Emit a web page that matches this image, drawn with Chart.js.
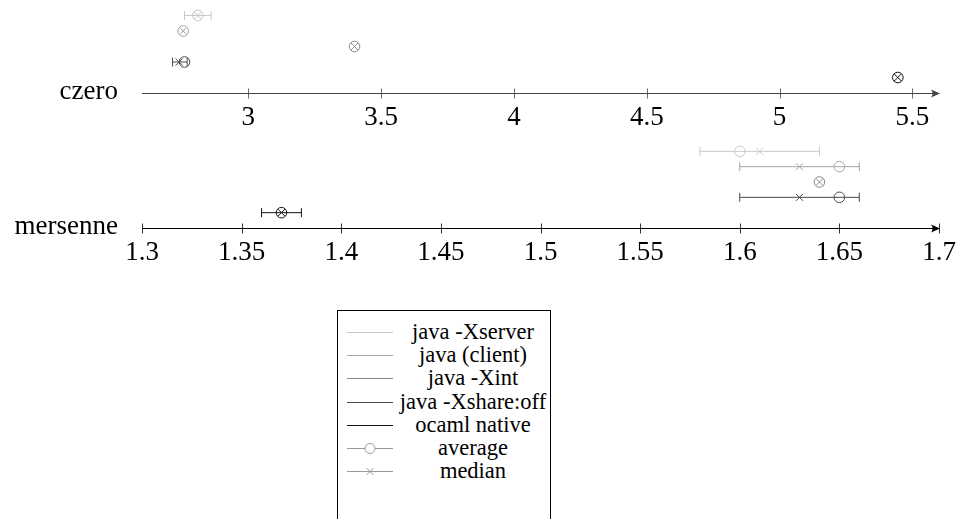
<!DOCTYPE html>
<html>
<head>
<meta charset="utf-8">
<script src="https://cdn.jsdelivr.net/npm/chart.js@4.4.1/dist/chart.umd.min.js"></script>
<style>
html,body{margin:0;padding:0;background:#fff;width:957px;height:519px;overflow:hidden;font-family:"Liberation Serif","Times New Roman","DejaVu Serif",serif;}
#c1{position:absolute;left:0;top:0;}
#c2{position:absolute;left:0;top:134px;}
#legend{position:absolute;left:337px;top:310px;width:214px;height:230px;border:1px solid #000;box-sizing:border-box;background:#fff;}
#legend .row{position:absolute;left:0;width:100%;height:24px;}
#legend svg{position:absolute;left:0;top:0;}
#legend .txt{position:absolute;left:60px;width:150px;top:0;height:24px;line-height:24px;text-align:center;font-size:22.5px;color:#000;white-space:nowrap;}
</style>
</head>
<body>
<canvas id="c1" width="957" height="135"></canvas>
<canvas id="c2" width="957" height="136"></canvas>
<div id="legend"></div>
<script>
// series (top row to bottom row)
const seriesNames = ['java -Xserver', 'java (client)', 'java -Xint', 'java -Xshare:off', 'ocaml native'];
const seriesColors = ['#c8c8c8', '#a6a6a6', '#8a8a8a', '#4a4a4a', '#111111'];

// czero
const czeroTicks = [3, 3.5, 4, 4.5, 5, 5.5];
const czeroAvg = [2.81, 2.755, 3.40, 2.76, 5.445];
const czeroMed = [2.81, 2.755, 3.40, 2.74, 5.445];
const czeroLo  = [2.76, null, null, 2.715, null];
const czeroHi  = [2.86, null, null, 2.77, null];

// mersenne
const mersTicks = [1.3, 1.35, 1.4, 1.45, 1.5, 1.55, 1.6, 1.65, 1.7];
const mersAvg = [1.60, 1.65, 1.64, 1.65, 1.37];
const mersMed = [1.61, 1.63, 1.64, 1.63, 1.37];
const mersLo  = [1.58, 1.60, null, 1.60, 1.36];
const mersHi  = [1.64, 1.66, null, 1.66, 1.38];

const FONT = '"Liberation Serif", "Times New Roman", "DejaVu Serif", serif';

function buildDatasets(avg, med, lo, hi){
	const ds = [];
	avg.forEach((v, i)=>{
		const row = 5 - i;
		const col = seriesColors[i];
		if (lo[i] !== null) {
			ds.push({
				data: [{x: lo[i], y: row}, {x: hi[i], y: row}],
				showLine: true, borderColor: col, borderWidth: 1,
				pointStyle: 'line', pointRotation: 90, pointRadius: 4.5,
				pointBorderColor: col, pointBorderWidth: 1
			});
		}
		ds.push({
			data: [{x: v, y: row}],
			pointStyle: 'circle', pointRadius: 5.3,
			pointBorderColor: col, pointBackgroundColor: 'rgba(0,0,0,0)', pointBorderWidth: 1
		});
		ds.push({
			data: [{x: med[i], y: row}],
			pointStyle: 'crossRot', pointRadius: 5,
			pointBorderColor: col, pointBorderWidth: 1
		});
	});
	return ds;
}

// axis line with arrow, tick marks across it, and the row label
const axisPlugin = {
	id: 'axisArrow',
	beforeDatasetsDraw(chart, args, opts){
		const ctx = chart.ctx;
		const xs = chart.scales.x, ys = chart.scales.y;
		const ay = Math.round(ys.getPixelForValue(0)) + 0.5;
		const tip = xs.right + 1;
		ctx.save();
		ctx.strokeStyle = opts.color;
		ctx.fillStyle = opts.color;
		ctx.lineWidth = opts.width;
		ctx.beginPath();
		ctx.moveTo(xs.left, ay);
		ctx.lineTo(tip - 4, ay);
		ctx.stroke();
		ctx.beginPath();
		ctx.moveTo(tip, ay);
		ctx.lineTo(tip - 9, ay - 4);
		ctx.quadraticCurveTo(tip - 6, ay, tip - 9, ay + 4);
		ctx.closePath();
		ctx.fill();
		ctx.lineWidth = 0.8;
		xs.ticks.forEach(t=>{
			const px = Math.round(xs.getPixelForValue(t.value)) + 0.5;
			ctx.beginPath();
			ctx.moveTo(px, ay - 5);
			ctx.lineTo(px, ay + 5);
			ctx.stroke();
		});
		ctx.fillStyle = '#000';
		ctx.font = `27px ${FONT}`;
		ctx.textAlign = 'right';
		ctx.textBaseline = 'alphabetic';
		ctx.fillText(opts.label, opts.labelX, ay + 5.5);
		ctx.restore();
	}
};

function makeChart(id, ticks, min, max, datasets, padTop, label, color){
	return new Chart(document.getElementById(id), {
		type: 'scatter',
		data: { datasets: datasets },
		options: {
			responsive: false,
			animation: false,
			events: [],
			layout: { autoPadding: false, padding: { left: 142, right: 18, top: padTop, bottom: 0 } },
			plugins: {
				legend: { display: false },
				tooltip: { enabled: false },
				axisArrow: { label: label, labelX: 118, color: color, width: 1.2 }
			},
			scales: {
				x: {
					type: 'linear', min: min, max: max,
					grid: { display: false, drawTicks: false },
					border: { display: false },
					afterBuildTicks: s => { s.ticks = ticks.map(v => ({ value: v })); },
					afterFit: s => { s.height = 42; s.paddingLeft = 0; s.paddingRight = 0; },
					ticks: {
						padding: 9, color: '#000', autoSkip: false, maxRotation: 0,
						font: { family: FONT, size: 27 },
						callback: v => String(v)
					}
				},
				y: { type: 'linear', min: 0, max: 6, display: false }
			}
		},
		plugins: [axisPlugin]
	});
}

function buildLegend(){
	const el = document.getElementById('legend');
	const items = seriesNames.map((n, i)=>({ label: n, color: seriesColors[i], marker: null }));
	items.push({ label: 'average', color: '#999', marker: 'circle' });
	items.push({ label: 'median', color: '#999', marker: 'cross' });
	items.forEach((it, i)=>{
		const row = document.createElement('div');
		row.className = 'row';
		row.style.top = (21 + i * 23.2 - 12) + 'px';
		let mk = '';
		if (it.marker === 'circle') mk = `<circle cx="32" cy="12.5" r="5" fill="#fff" stroke="${it.color}" stroke-width="1"/>`;
		if (it.marker === 'cross') mk = `<path d="M28.5 9 L35.5 16 M35.5 9 L28.5 16" stroke="${it.color}" stroke-width="1"/>`;
		row.innerHTML = `<svg width="60" height="24"><line x1="9" y1="12.5" x2="55" y2="12.5" stroke="${it.color}" stroke-width="1"/>${mk}</svg><div class="txt">${it.label}</div>`;
		el.appendChild(row);
	});
}

window.addEventListener('DOMContentLoaded', ()=>{
	makeChart('c1', czeroTicks, 2.6, 5.6, buildDatasets(czeroAvg, czeroMed, czeroLo, czeroHi), 0, 'czero', '#444');
	makeChart('c2', mersTicks, 1.3, 1.7, buildDatasets(mersAvg, mersMed, mersLo, mersHi), 2, 'mersenne', '#000');
	buildLegend();
});
</script>
</body>
</html>
